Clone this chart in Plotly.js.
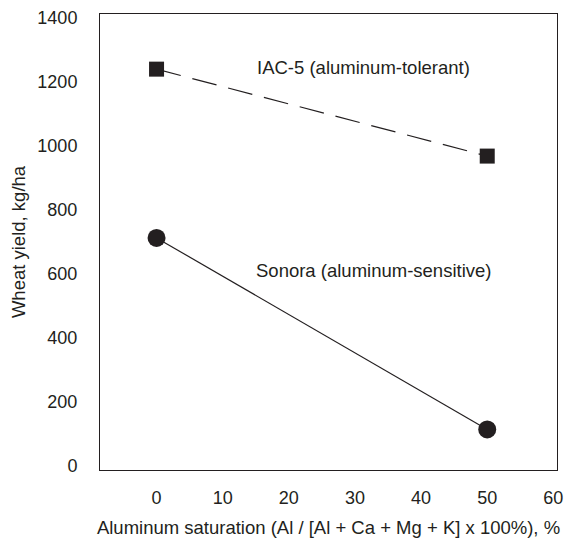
<!DOCTYPE html>
<html>
<head>
<meta charset="utf-8">
<script src="https://cdn.plot.ly/plotly-3.0.1.min.js"></script>
<style>html,body{margin:0;padding:0;background:#fff;}#chart{width:564px;height:538px;}</style>
</head>
<body>
<div id="chart"></div>
<script>
var saturation = [0, 50];
var iac5Yield = [1240, 968];
var sonoraYield = [712, 113];
var xTicks = [0, 10, 20, 30, 40, 50, 60];
var yTicks = [0, 200, 400, 600, 800, 1000, 1200, 1400];
var iac5Label = 'IAC-5 (aluminum-tolerant)';
var sonoraLabel = 'Sonora (aluminum-sensitive)';

var ink = '#231f20';
var font = {family: '"Liberation Sans", Arial, sans-serif', size: 18.5, color: ink};
var tickFont = {family: '"Liberation Sans", Arial, sans-serif', size: 18, color: ink};

var traces = [
  {
    x: saturation, y: iac5Yield, type: 'scatter', mode: 'lines+markers',
    name: iac5Label,
    line: {color: ink, width: 1.2, dash: '25px,12px'},
    marker: {symbol: 'square', size: 15, color: ink}
  },
  {
    x: saturation, y: sonoraYield, type: 'scatter', mode: 'lines+markers',
    name: sonoraLabel,
    line: {color: ink, width: 1.2},
    marker: {symbol: 'circle', size: 18, color: ink}
  }
];

var layout = {
  width: 564, height: 538,
  margin: {l: 100, r: 7, t: 14, b: 67.5, pad: 0},
  paper_bgcolor: '#fff', plot_bgcolor: '#fff',
  font: font,
  showlegend: false,
  xaxis: {
    range: [-8.55, 60.55],
    tickvals: xTicks, ticktext: xTicks.map(String),
    showgrid: false, zeroline: false,
    showline: true, mirror: true, linecolor: ink, linewidth: 1,
    ticks: '', ticklabelstandoff: 11,
    tickfont: tickFont,
    title: {text: 'Aluminum saturation (Al / [Al + Ca + Mg + K] x 100%), %', font: font, standoff: 14}
  },
  yaxis: {
    range: [-14, 1412.5],
    tickvals: yTicks, ticktext: yTicks.map(String),
    showgrid: false, zeroline: false,
    showline: true, mirror: true, linecolor: ink, linewidth: 1,
    ticks: '', ticklabelstandoff: 18,
    tickfont: tickFont,
    title: {text: 'Wheat yield, kg/ha', font: font, standoff: 6}
  },
  annotations: [
    {x: 14.9, y: 1244, xref: 'x', yref: 'y', text: iac5Label, showarrow: false,
     xanchor: 'left', yanchor: 'middle', font: font},
    {x: 50.9, y: 610, xref: 'x', yref: 'y', text: sonoraLabel, showarrow: false,
     xanchor: 'right', yanchor: 'middle', font: font}
  ]
};

Plotly.newPlot('chart', traces, layout, {displayModeBar: false, staticPlot: true});
</script>
</body>
</html>
